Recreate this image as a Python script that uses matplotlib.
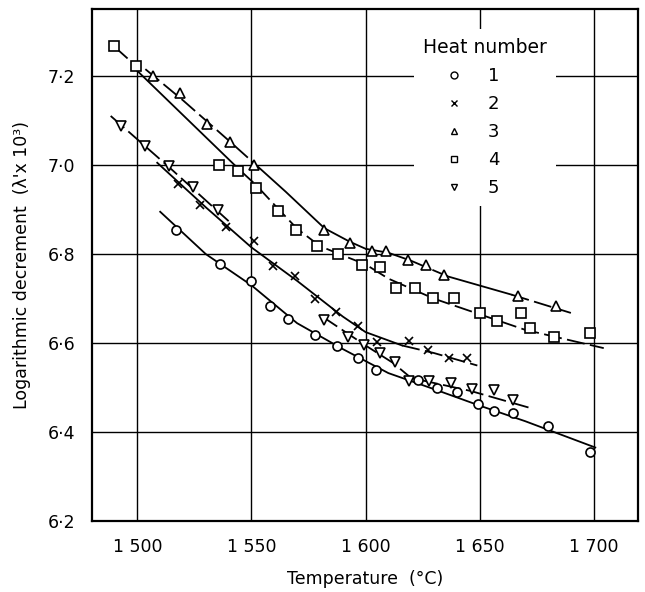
import matplotlib.pyplot as plt
from matplotlib.lines import Line2D

plt.rcParams['font.family'] = ['DejaVu Sans']

# heat 1 (circles)
heat1_t = [1517, 1536, 1550, 1558, 1566, 1578, 1587.5, 1596.5, 1604.5, 1623, 1631.5, 1640,
           1649.5, 1656.5, 1664.5, 1680, 1698.3]
heat1_d = [6.855, 6.778, 6.740, 6.684, 6.654, 6.619, 6.594, 6.567, 6.540, 6.518, 6.499, 6.491,
           6.464, 6.449, 6.443, 6.415, 6.355]

# heat 2 (crosses)
heat2_t = [1518, 1527.5, 1539, 1551, 1559.5, 1569, 1578, 1587, 1596.5, 1605, 1619, 1627.5,
           1636.5, 1644.5]
heat2_d = [6.958, 6.911, 6.861, 6.829, 6.773, 6.750, 6.700, 6.669, 6.639, 6.602, 6.604, 6.585,
           6.567, 6.567]

# heat 3 (up triangles)
heat3_t = [1507, 1518.5, 1530.5, 1540.8, 1551, 1582, 1593.3, 1602.7, 1609, 1618.7, 1626.3,
           1634.2, 1667, 1683.3]
heat3_d = [7.200, 7.161, 7.092, 7.051, 6.999, 6.855, 6.826, 6.807, 6.807, 6.787, 6.776,
           6.754, 6.706, 6.683]

# heat 4 (squares)
heat4_t = [1489.8, 1499.2, 1535.8, 1544.2, 1552.2, 1561.5, 1569.5, 1578.8, 1588.1, 1598.6,
           1606.4, 1613.4, 1621.6, 1629.5, 1638.9, 1650.2, 1657.5, 1668, 1672, 1682.5, 1698.4]
heat4_d = [7.266, 7.223, 7.000, 6.986, 6.949, 6.896, 6.855, 6.819, 6.800, 6.776,
           6.770, 6.723, 6.723, 6.701, 6.701, 6.667, 6.650, 6.668, 6.635, 6.614, 6.623]

# heat 5 (down triangles)
heat5_t = [1492.7, 1503.3, 1514, 1524.4, 1535.2, 1581.8, 1592.3, 1599.4, 1606.5, 1612.7,
           1619.2, 1627.6, 1637.4, 1646.7, 1656.5, 1664.8]
heat5_d = [7.087, 7.042, 6.997, 6.951, 6.900, 6.653, 6.613, 6.597, 6.579, 6.557,
           6.516, 6.516, 6.510, 6.497, 6.496, 6.473]

# fitted curves as drawn on the original, piece by piece (t, d, style)
fit_pieces = [
    ([1510, 1530, 1550, 1570, 1590, 1610, 1630, 1650, 1670, 1700.7],
     [6.895, 6.80, 6.73, 6.645, 6.587, 6.533, 6.497, 6.46, 6.425, 6.366], 'solid'),
    ([1508.7, 1530, 1550, 1570, 1590, 1600, 1616],
     [7.005, 6.905, 6.815, 6.74, 6.66, 6.625, 6.595], 'solid'),
    ([1616, 1630, 1649], [6.595, 6.578, 6.55], 'dashed'),
    ([1503.5, 1520, 1540, 1552], [7.215, 7.145, 7.055, 7.0], 'dashed'),
    ([1552, 1565, 1582, 1593, 1600], [7.0, 6.94, 6.858, 6.828, 6.812], 'solid'),
    ([1600, 1610, 1620, 1636], [6.812, 6.803, 6.785, 6.75], 'dashed'),
    ([1636, 1664], [6.75, 6.709], 'solid'),
    ([1664, 1690], [6.709, 6.668], 'dashed'),
    ([1489.8, 1499.2], [7.266, 7.223], 'dashed'),
    ([1500, 1545], [7.211, 6.988], 'solid'),
    ([1545, 1552, 1562, 1570, 1580, 1590, 1600, 1610, 1630, 1650, 1670, 1704.4],
     [6.988, 6.955, 6.9, 6.857, 6.818, 6.797, 6.777, 6.745, 6.70, 6.665, 6.63, 6.589], 'dashed'),
    ([1488.3, 1515, 1540], [7.11, 6.99, 6.874], 'dashed'),
    ([1581, 1600, 1612, 1620, 1646, 1672], [6.66, 6.595, 6.556, 6.522, 6.493, 6.455], 'dashed'),
]

heat_labels = ['1', '2', '3', '4', '5']
markers = ['o', 'x', '^', 's', 'v']
x_ticks = [1500, 1550, 1600, 1650, 1700]
x_tick_labels = ['1 500', '1 550', '1 600', '1 650', '1 700']
y_ticks = [6.2, 6.4, 6.6, 6.8, 7.0, 7.2]
y_tick_labels = ['6·2', '6·4', '6·6', '6·8', '7·0', '7·2']

fig = plt.figure(figsize=(6.45, 5.92), dpi=100)
ax = fig.add_axes([0.1426, 0.1191, 0.8458, 0.8657])

for t, d, style in fit_pieces:
    if style == 'solid':
        ax.plot(t, d, '-', color='black', lw=1.3, zorder=2)
    else:
        ax.plot(t, d, '-', color='black', lw=1.3, dashes=(10, 3), zorder=2)

series = [(heat1_t, heat1_d), (heat2_t, heat2_d), (heat3_t, heat3_d),
          (heat4_t, heat4_d), (heat5_t, heat5_d)]
sizes = [6.5, 6, 7.5, 7, 7.5]
for (t, d), m, ms in zip(series, markers, sizes):
    ax.plot(t, d, linestyle='none', marker=m, ms=ms, mfc='white', mec='black',
            mew=1.2, color='black', zorder=3)

ax.set_xlim(1480.1, 1719.2)
ax.set_ylim(6.2, 7.35)
ax.set_xticks(x_ticks)
ax.set_xticklabels(x_tick_labels)
ax.set_yticks(y_ticks)
ax.set_yticklabels(y_tick_labels)
ax.tick_params(length=0, labelsize=12.5, pad=12)
ax.grid(True, color='black', lw=1.0)
ax.set_axisbelow(True)
for s in ax.spines.values():
    s.set_linewidth(1.6)

ax.set_xlabel('Temperature  (°C)', fontsize=12.5, labelpad=10)
ax.set_ylabel("Logarithmic decrement  (λ'x 10³)", fontsize=12.5, labelpad=12)

handles = [Line2D([], [], linestyle='none', marker=m, ms=5, mfc='white', mec='black',
                  mew=1.0, color='black') for m in markers]
leg = ax.legend(handles, heat_labels, title='Heat number', loc='upper left',
                bbox_to_anchor=(0.573, 0.978), frameon=True, facecolor='white',
                edgecolor='none', framealpha=1, fontsize=13, title_fontsize=13.5,
                handlelength=3.5, handletextpad=0.1, labelspacing=0.55,
                borderpad=0.5, alignment='left')
leg.get_frame().set_boxstyle('square', pad=0)

fig.savefig('out.png', dpi=100)
